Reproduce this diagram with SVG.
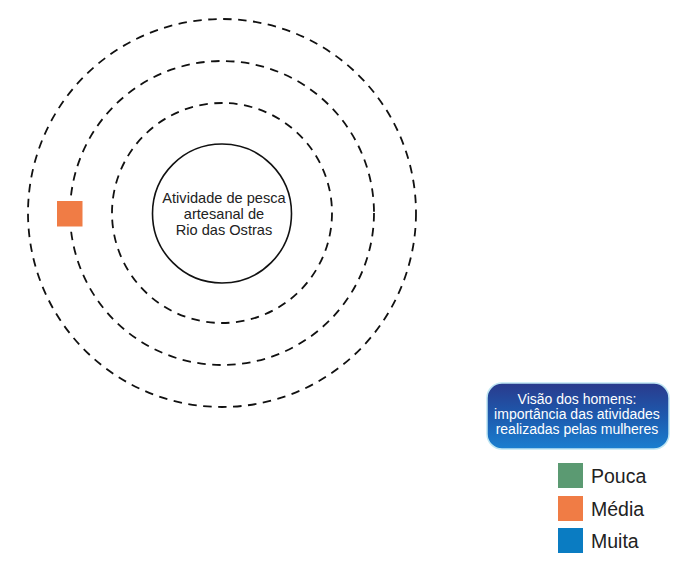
<svg xmlns="http://www.w3.org/2000/svg" width="673" height="564" viewBox="0 0 673 564">
<defs>
<linearGradient id="g" x1="0" y1="0" x2="0" y2="1">
<stop offset="0" stop-color="#2a3a8c"/>
<stop offset="0.5" stop-color="#1d5aae"/>
<stop offset="1" stop-color="#1a7fd0"/>
</linearGradient>
<style>
.d{fill:none;stroke:#111;stroke-width:1.8;stroke-dasharray:8.5 6.5}
.t{font-family:"Liberation Sans",Arial,sans-serif}
</style>
</defs>
<rect width="673" height="564" fill="#fff"/>
<g id="rings">
<circle class="d" cx="222" cy="213" r="194"/>
<circle class="d" cx="222" cy="213" r="152"/>
<circle class="d" cx="222" cy="213" r="110"/>
</g>
<g id="center">
<circle cx="222" cy="213.5" r="69.5" fill="#fff" stroke="#111" stroke-width="1.6"/>
<text class="t" x="224" y="203" font-size="14.6" text-anchor="middle" fill="#222">Atividade de pesca</text>
<text class="t" x="224" y="219" font-size="14.6" text-anchor="middle" fill="#222">artesanal de</text>
<text class="t" x="224" y="235" font-size="14.6" text-anchor="middle" fill="#222">Rio das Ostras</text>
</g>
<g id="marker-media">
<rect x="57" y="201" width="25.5" height="25.5" fill="#f07c45"/>
</g>
<g id="legend-title">
<rect x="487" y="383" width="182" height="66" rx="15" fill="url(#g)" stroke="#bfe6f3" stroke-width="1.5"/>
<text class="t" x="577" y="404" font-size="14" text-anchor="middle" fill="#fff">Visão dos homens:</text>
<text class="t" x="577" y="419" font-size="14" text-anchor="middle" fill="#fff">importância das atividades</text>
<text class="t" x="577" y="434" font-size="14" text-anchor="middle" fill="#fff">realizadas pelas mulheres</text>
</g>
<g id="legend-pouca">
<rect x="558" y="463" width="25" height="25" fill="#5b9a72"/>
<text class="t" x="591" y="483" font-size="19.5" fill="#222">Pouca</text>
</g>
<g id="legend-media">
<rect x="558" y="496" width="25" height="25" fill="#f07c45"/>
<text class="t" x="591" y="516" font-size="19.5" fill="#222">Média</text>
</g>
<g id="legend-muita">
<rect x="558" y="528" width="25" height="25" fill="#0a7cc2"/>
<text class="t" x="591" y="548" font-size="19.5" fill="#222">Muita</text>
</g>
</svg>
